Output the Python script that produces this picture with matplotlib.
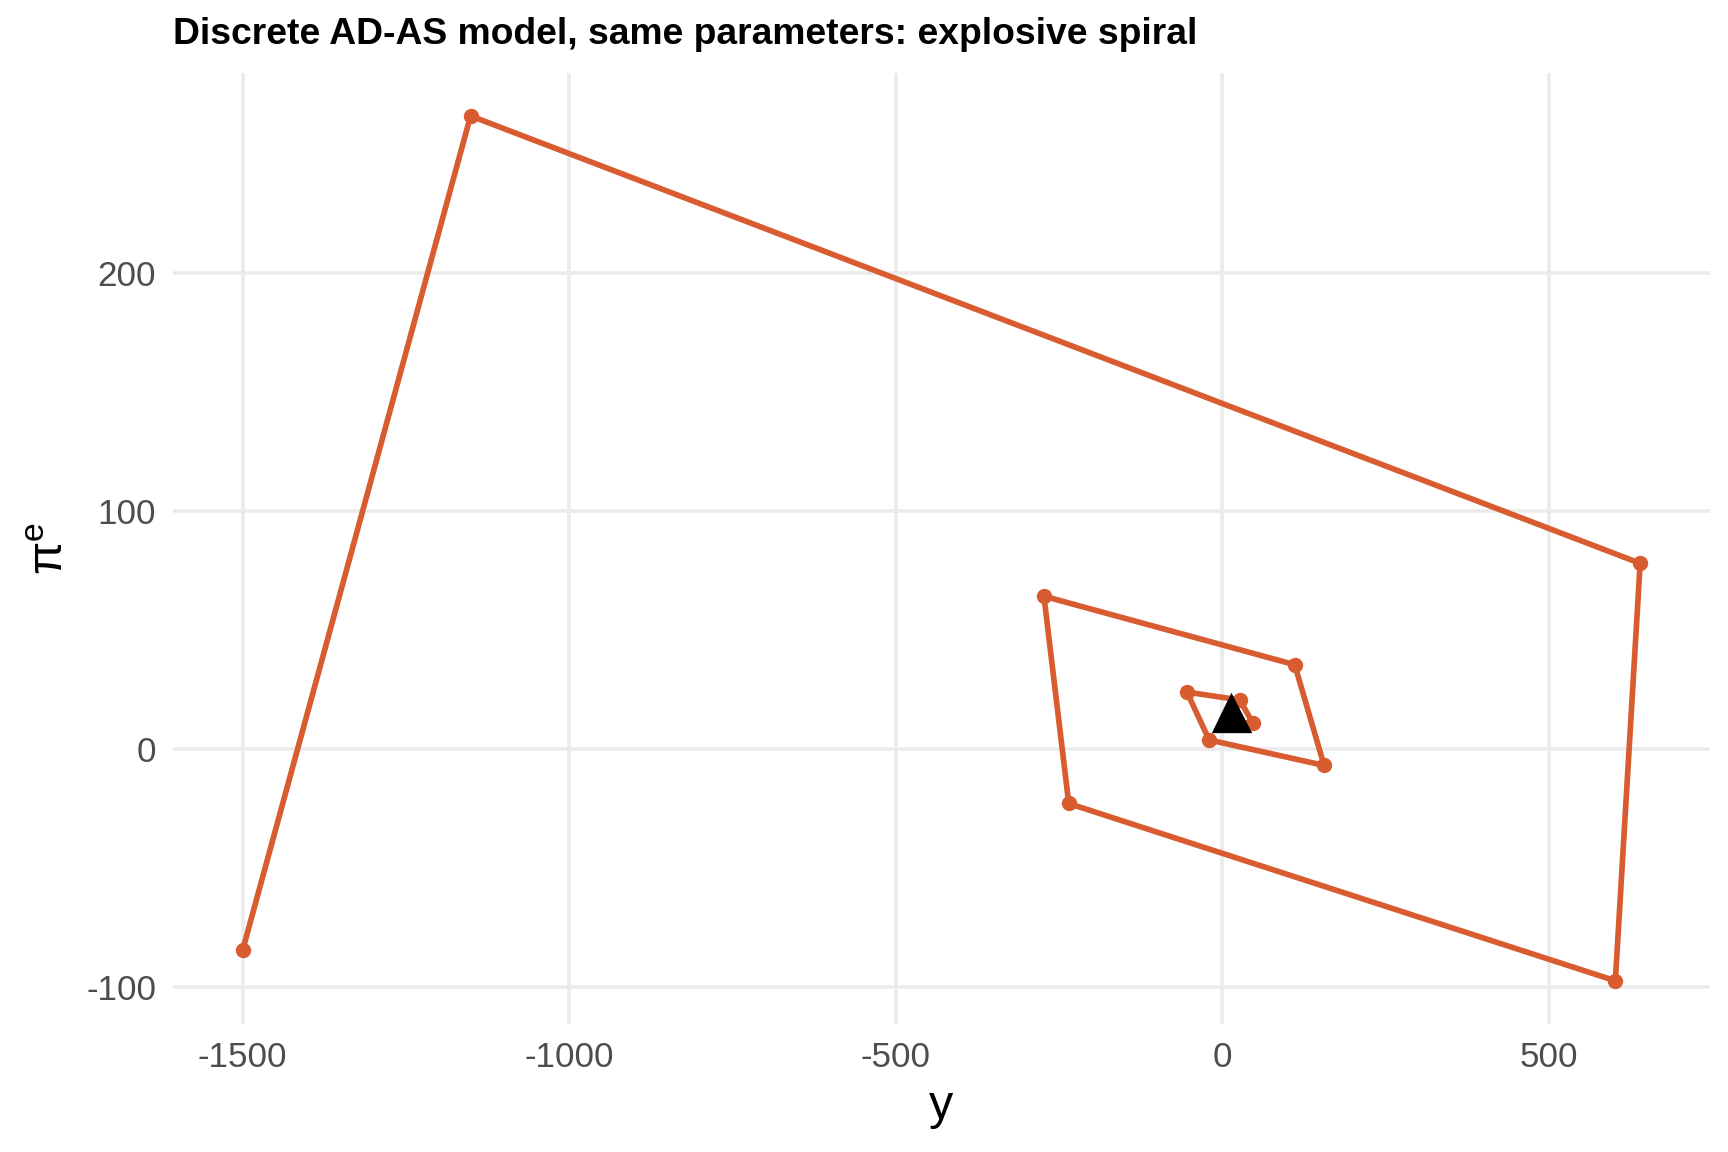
import numpy as np
import matplotlib.pyplot as plt

# trajectory of (y, pi^e), spiralling out from the equilibrium
y_path = [11, 47, 27, -54, -20, 156, 111, -273, -235, 602, 640, -1151, -1500]
pie_path = [11.5, 11.0, 20.8, 24.1, 4.0, -6.7, 35.6, 64.4, -22.7, -97.2, 78.2, 266.2, -84.3]

# equilibrium point
y_star = [14]
pie_star = [15.5]

x_ticks = [-1500, -1000, -500, 0, 500]
y_ticks = [-100, 0, 100, 200]

plt.rcParams['font.family'] = ['Liberation Sans', 'DejaVu Sans']
plt.rcParams['axes.unicode_minus'] = False

fig = plt.figure(figsize=(7.2, 4.8), dpi=240)
ax = fig.add_axes([0.100, 0.111, 0.8896, 0.826])

ax.plot(y_path, pie_path, '-', color='#D95B30', lw=1.7, zorder=3,
        solid_joinstyle='round', solid_capstyle='round')
ax.plot(y_path, pie_path, 'o', color='#D95B30', ms=3.6, zorder=4)
ax.plot(y_star, pie_star, '^', color='black', ms=10.5, zorder=5)

ax.set_xlim(-1607, 747)
ax.set_ylim(-115.4, 284.4)
ax.set_xticks(x_ticks)
ax.set_yticks(y_ticks)
ax.grid(True, color='#EBEBEB', lw=1.1)
ax.set_axisbelow(True)
for s in ax.spines.values():
    s.set_visible(False)
ax.tick_params(length=0, labelsize=10.5, labelcolor='#4D4D4D', pad=5)

ax.set_xlabel('y', fontsize=14.5, labelpad=3)
ax.set_ylabel(r'$\mathregular{\pi^e}$', fontsize=14.5, labelpad=4)

fig.text(0.100, 0.962, 'Discrete AD-AS model, same parameters: explosive spiral',
         fontsize=11.2, fontweight='bold', ha='left', va='baseline')

fig.savefig('out.png', dpi=240)
